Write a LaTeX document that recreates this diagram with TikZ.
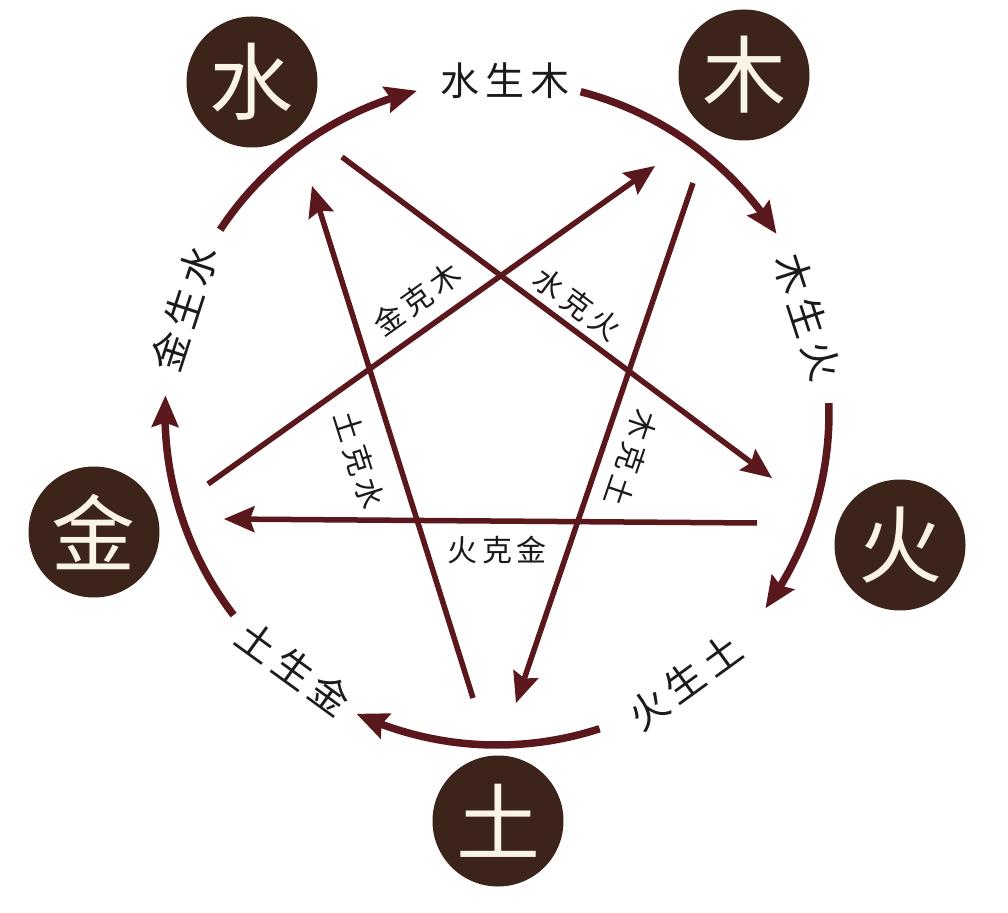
\documentclass[tikz,border=0pt]{standalone}
\usepackage{fontspec}
\newfontfamily\cjk{Noto Sans CJK SC}
\usetikzlibrary{arrows.meta,bending}
\definecolor{elfill}{RGB}{60,36,27}
\definecolor{linec}{RGB}{90,24,28}
\definecolor{txtc}{RGB}{30,26,26}
\definecolor{cream}{RGB}{250,244,230}
\newcommand\gapx{\hspace{0.16em}}
\begin{document}
\begin{tikzpicture}[x=1pt,y=1pt,
  element/.style={circle,fill=elfill,minimum size=131pt,inner sep=0pt,text=cream,font=\cjk\fontsize{84}{86}\selectfont},
  ringtext/.style={text=txtc,font=\cjk\fontsize{39}{41}\selectfont,inner sep=0pt},
  ketext/.style={text=txtc,font=\cjk\fontsize{30}{32}\selectfont,inner sep=0pt},
  ringarrow/.style={draw=linec,line width=7.5pt,-{Stealth[length=32pt,width=28pt,inset=5pt,line width=0pt]}},
  kearrow/.style={draw=linec,line width=5.5pt,-{Stealth[length=31pt,width=27pt,inset=5pt,line width=0pt]}}
]
\fill[white] (-497,-499) rectangle (511,413);
\useasboundingbox (-497,-499) rectangle (511,413);

% elements
\node[element] (shui) at (-245,331) {水};
\node[element] (mu) at (247,338) {木};
\node[element] (huo) at (403,-132) {火};
\node[element] (tu) at (1,-408) {土};
\node[element] (jin) at (-403,-119) {金};

% ring arcs (sheng cycle)
\coordinate (a1s) at (146.5:332);
\coordinate (a2s) at (75.4:332);
\coordinate (a3s) at (1.7:332);
\coordinate (a4s) at (-72:332);
\coordinate (a5s) at (-142.5:332);
\draw[ringarrow] (a1s) arc[start angle=146.5,end angle=104,radius=332];
\draw[ringarrow] (a2s) arc[start angle=75.4,end angle=32.7,radius=332];
\draw[ringarrow] (a3s) arc[start angle=1.7,end angle=-36,radius=332];
\draw[ringarrow] (a4s) arc[start angle=-72,end angle=-115,radius=332];
\draw[ringarrow] (a5s) arc[start angle=-142.5,end angle=-183,radius=332];

% ring texts
\node[ringtext] (t1) at (8,332) {水\gapx 生\gapx 木};
\node[ringtext,rotate=-72] (t2) at (311,96) {木\gapx 生\gapx 火};
\node[ringtext,rotate=36] (t3) at (188,-269) {火\gapx 生\gapx 土};
\node[ringtext,rotate=-36] (t4) at (-203,-255) {土\gapx 生\gapx 金};
\node[ringtext,rotate=72] (t5) at (-313,105) {金\gapx 生\gapx 水};

% ke cycle (star)
\coordinate (k1s) at (-289,-71);
\coordinate (k1e) at (158,247);
\coordinate (k2s) at (196,230);
\coordinate (k2e) at (19,-290);
\coordinate (k3s) at (-24,-285);
\coordinate (k3e) at (-185,227);
\coordinate (k4s) at (-155,256);
\coordinate (k4e) at (275,-65);
\coordinate (k5s) at (260,-110);
\coordinate (k5e) at (-273,-106);
\draw[kearrow] (k1s) -- (k1e);
\draw[kearrow] (k2s) -- (k2e);
\draw[kearrow] (k3s) -- (k3e);
\draw[kearrow] (k4s) -- (k4e);
\draw[kearrow] (k5s) -- (k5e);

% ke labels
\node[ketext,rotate=35.4] (l1) at (-80,114) {金\gapx 克\gapx 木};
\node[ketext,rotate=-36.7] (l2) at (80,109) {水\gapx 克\gapx 火};
\node[ketext,rotate=-72.5] (l3) at (-138,-47) {土\gapx 克\gapx 水};
\node[ketext,rotate=-108.8] (l4) at (134,-45) {木\gapx 克\gapx 土};
\node[ketext] (l5) at (0,-137) {火\gapx 克\gapx 金};
\end{tikzpicture}
\end{document}
